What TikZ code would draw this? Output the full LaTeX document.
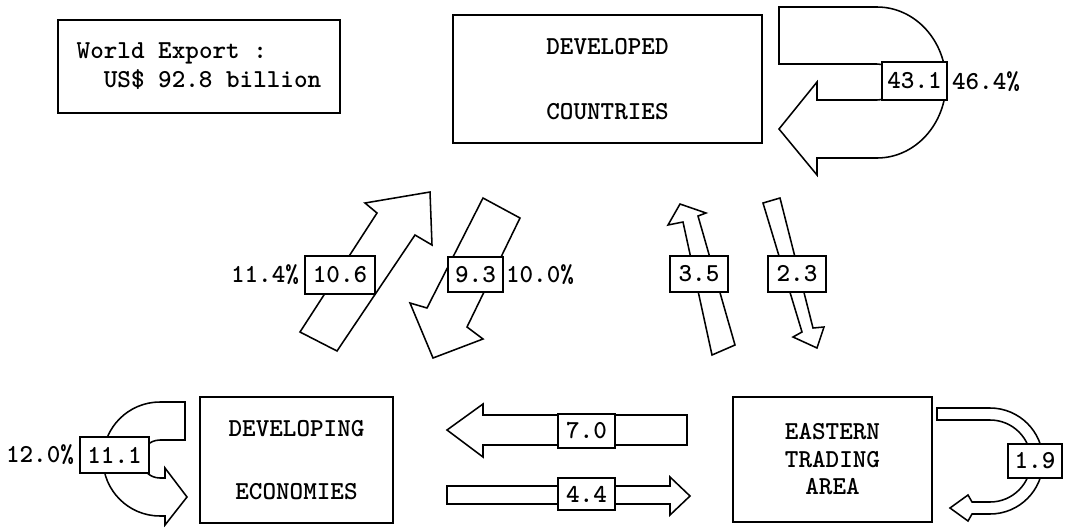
\documentclass[tikz,border=0pt]{standalone}
\usepackage{tikz}
\usetikzlibrary{positioning}

\begin{document}
\begin{tikzpicture}[
  x=0.025cm, y=-0.025cm,
  font=\ttfamily\bfseries\fontsize{18.4}{20.6}\selectfont,
  region/.style={draw, line width=1.1pt, align=center, inner sep=0pt},
  bigarrow/.style={draw, fill=white, line width=1.1pt, line join=miter},
  val/.style={draw, fill=white, line width=1.1pt, inner sep=0pt},
  share/.style={inner sep=0pt}
]
\useasboundingbox (0,0) rectangle (1067,527);

% Regions
\node[region, minimum width=7.05cm, minimum height=2.325cm, align=left] (world) at (199,66.5)
  {World Export :\\\hphantom{00}US\$ 92.8 billion};
\node[region, minimum width=7.725cm, minimum height=3.2cm] (dev) at (607.5,79)
  {DEVELOPED\\[25.6pt]COUNTRIES};
\node[region, minimum width=4.825cm, minimum height=3.15cm] (dving) at (296.5,460)
  {DEVELOPING\\[24pt]ECONOMIES};
\node[region, minimum width=4.975cm, minimum height=3.125cm] (east) at (832.5,459.5)
  {EASTERN\\[-1pt]TRADING\\[-1pt]AREA};

% Flows inside the regions
\draw[bigarrow] (779,7) -- (877,7) arc[start angle=-90, end angle=90, x radius=69, y radius=75.5]
  -- (817,158) -- (817,175) -- (779,129) -- (817,82) -- (817,100) -- (877,100)
  arc[start angle=90, end angle=-90, radius=18] -- (779,64) -- cycle;
\draw[bigarrow] (185,402) -- (160,402) arc[start angle=-90, end angle=-270, radius=57]
  -- (165,516) -- (165,525) -- (187,497) -- (165,468) -- (165,478) -- (160,478)
  arc[start angle=90, end angle=270, radius=19] -- (185,440) -- cycle;
\draw[bigarrow] (937,408) -- (990,408) arc[start angle=-90, end angle=90, radius=53]
  -- (972,514) -- (968,521) -- (950,508) -- (968,495) -- (972,502) -- (990,502)
  arc[start angle=90, end angle=-90, radius=41] -- (937,420) -- cycle;

% Flows between the regions
\draw[bigarrow] (300,332) -- (377,213) -- (365,203) -- (430,192) -- (432,245) -- (415,235) -- (337,351) -- cycle;
\draw[bigarrow] (483,198) -- (520,218) -- (467,327) -- (483,339) -- (433,358) -- (410,303) -- (427,308) -- cycle;
\draw[bigarrow] (712,355) -- (683,222) -- (668,225) -- (680,204) -- (706,213) -- (698,216) -- (735,345) -- cycle;
\draw[bigarrow] (763,203) -- (780,198) -- (813,328) -- (824,327) -- (817,348) -- (793,337) -- (802,332) -- cycle;
\draw[bigarrow] (687,415) -- (483,415) -- (483,404) -- (447,430) -- (483,457) -- (483,445) -- (687,445) -- cycle;
\draw[bigarrow] (447,486) -- (670,486) -- (670,477) -- (690,496) -- (670,515) -- (670,504) -- (447,504) -- cycle;

% Values and shares
\node[val, minimum width=1.625cm, minimum height=.95cm] (v431) at (914.5,81) {43.1};
\node[share] (s464) at (986,82) {46.4\%};
\node[val, minimum width=1.75cm, minimum height=.95cm] (v106) at (340,275) {10.6};
\node[share] (s114) at (265,275) {11.4\%};
\node[val, minimum width=1.375cm, minimum height=.875cm] (v93) at (475.5,274.5) {9.3};
\node[share] (s100) at (540,275) {10.0\%};
\node[val, minimum width=1.45cm, minimum height=.9cm] (v35) at (699,274) {3.5};
\node[val, minimum width=1.45cm, minimum height=.9cm] (v23) at (797,274) {2.3};
\node[val, minimum width=1.725cm, minimum height=.9cm] (v111) at (114.5,455) {11.1};
\node[share] (s120) at (40,455) {12.0\%};
\node[val, minimum width=1.425cm, minimum height=.85cm] (v70) at (586.5,431) {7.0};
\node[val, minimum width=1.425cm, minimum height=.8cm] (v44) at (586.5,494) {4.4};
\node[val, minimum width=1.35cm, minimum height=.85cm] (v19) at (1035,461) {1.9};
\end{tikzpicture}
\end{document}
